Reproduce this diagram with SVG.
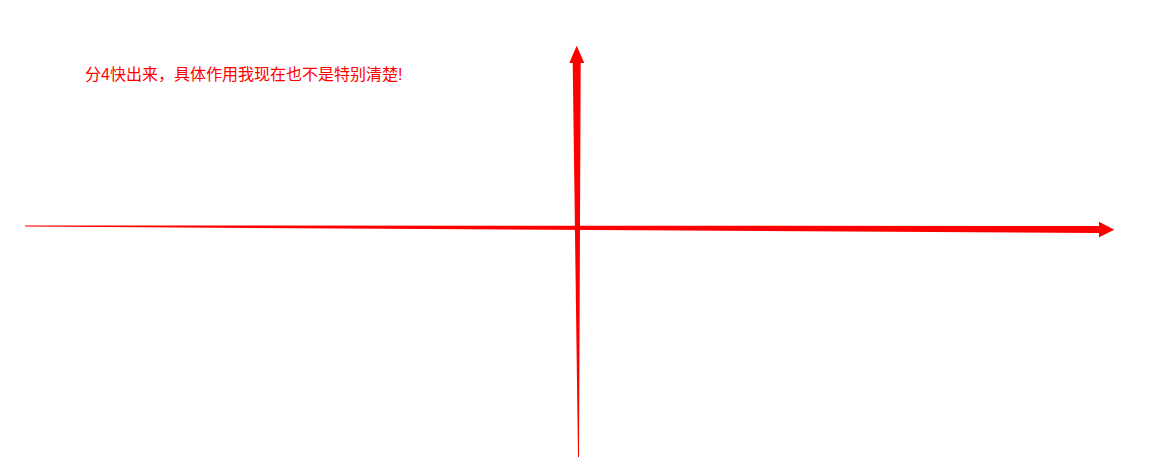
<svg xmlns="http://www.w3.org/2000/svg" width="1152" height="472" viewBox="0 0 1152 472">
<style>
.arrow{fill:#ff0000;stroke:none}
.note{font-family:"Liberation Sans","Noto Sans CJK SC",sans-serif;font-size:16px;fill:#ff0000}
</style>
<rect width="1152" height="472" fill="#ffffff"/>
<g id="connectors">
<polygon id="axis-y" class="arrow" points="578,457 579,457 580.7,63 584.3,63 576.7,45.7 569.3,63 572.7,63"/>
<polygon id="axis-x" class="arrow" points="25,225.5 1099,226 1099,221.7 1114.3,229.8 1099,237.3 1099,233 25,226.5"/>
</g>
<g id="note">
<text class="note" x="85" y="80">分4快出来，具体作用我现在也不是特别清楚!</text>
</g>
</svg>
